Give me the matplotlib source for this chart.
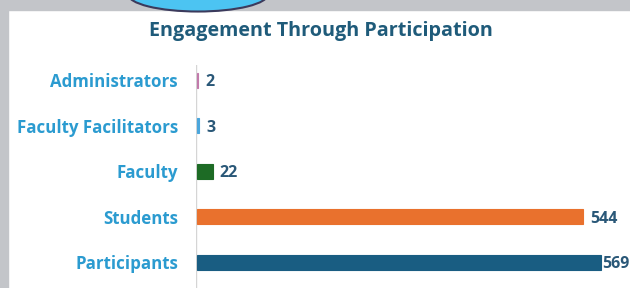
import matplotlib.pyplot as plt
from matplotlib.patches import Rectangle, Ellipse

categories = ['Participants', 'Students', 'Faculty', 'Faculty Facilitators', 'Administrators']
values = [569, 544, 22, 3, 2]
colors = ['#195d82', '#e9712d', '#1d6b25', '#4ba6dc', '#c27aab']

fig = plt.figure(figsize=(6.3, 2.88), dpi=100)
fig.patch.set_facecolor('white')

# grey frame of the screenshot + cropped logo at the top
fig.add_artist(Rectangle((0, 0), 8 / 630, 1, transform=fig.transFigure, color='#c3c5c9', zorder=0))
fig.add_artist(Rectangle((0, 1 - 10 / 288), 1, 10 / 288, transform=fig.transFigure, color='#c3c5c9', zorder=0))
fig.add_artist(Ellipse((198 / 630, 1.02), 140 / 630, 0.12, transform=fig.transFigure,
                       facecolor='#4cc4f2', edgecolor='#3b3a5c', lw=1.5, zorder=1))

ax = fig.add_axes([196 / 630, 0, 434 / 630, 223 / 288])
ypos = list(range(len(categories)))
ax.barh(ypos, values, height=0.33, color=colors, edgecolor=colors, linewidth=0.8, zorder=3)
ax.set_xlim(-1.5, 610)
ax.set_ylim(-0.57, 4.33)
ax.set_yticks(ypos)
ax.set_yticklabels(categories, fontfamily='Open Sans', fontweight='bold',
                   fontsize=12.2, color='#2b9bd0')
ax.tick_params(axis='y', length=0, pad=13)
ax.set_xticks([])
for s in ['top', 'right', 'bottom', 'left']:
    ax.spines[s].set_visible(False)
ax.axvline(-1.5, color='#d5d5d5', lw=1, zorder=1)
ax.set_facecolor('none')

labels = []
for y, v in zip(ypos, values):
    t = ax.annotate(str(v), (v, y), xytext=(5, 0), textcoords='offset points',
                    va='center_baseline', ha='left', fontfamily='Open Sans',
                    fontweight='bold', fontsize=11.5, color='#2a5878', annotation_clip=False)
    labels.append(t)

fig.text(321 / 630, 1 - 31 / 288, 'Engagement Through Participation', ha='center', va='center',
         fontfamily='Open Sans', fontweight='bold', fontsize=14.2, color='#1f5b7a')

# keep the last label inside the picture
fig.canvas.draw()
r = fig.canvas.get_renderer()
for t in labels:
    bb = t.get_window_extent(r)
    if bb.x1 > 629:
        t.set_position((5 - (bb.x1 - 629) * 72 / 100, 0))

fig.savefig('out.png', dpi=100)
